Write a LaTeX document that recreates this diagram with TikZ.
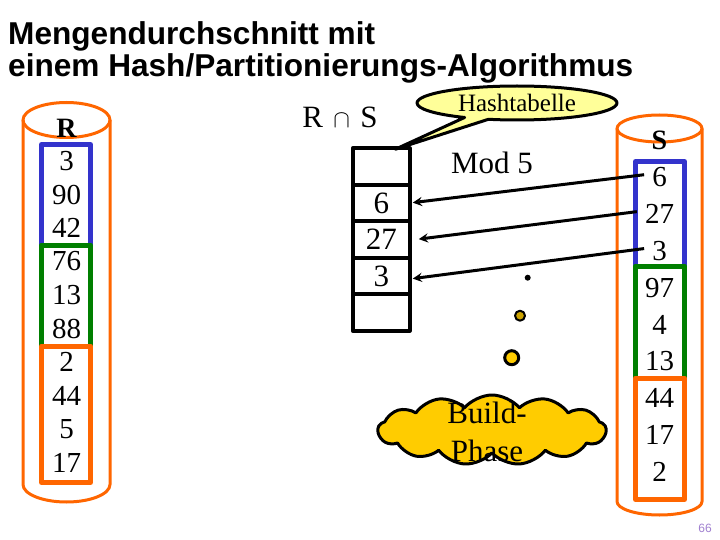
\documentclass[tikz,border=0pt]{standalone}
\usepackage{fontspec}
\setmainfont{Liberation Serif}
\newfontfamily\titlefont{Liberation Sans}
\usetikzlibrary{shapes.symbols,shapes.callouts,positioning}
\definecolor{orng}{HTML}{FF6600}
\definecolor{blu}{HTML}{3333CC}
\definecolor{grn}{HTML}{007F00}
\definecolor{callfill}{HTML}{FFFF99}
\definecolor{cloudfill}{HTML}{FFCC00}
\definecolor{pgnum}{HTML}{A080D0}
\tikzset{
  num/.style={font=\fontsize{29}{29}\selectfont, inner sep=0pt},
  lbl/.style={font=\fontsize{28}{28}\selectfont\bfseries, inner sep=0pt},
  big/.style={font=\fontsize{31}{31}\selectfont, inner sep=0pt},
  cylr/.style={draw=orng, line width=3pt},
  inbox/.style={line width=5pt},
  hcell/.style={draw, line width=4pt, minimum width=57pt, minimum height=36.5pt, inner sep=0pt, outer sep=0pt, font=\fontsize{31}{31}\selectfont},
  arr/.style={->, line width=3pt, shorten >=3pt, shorten <=6pt},
}
\begin{document}
\begin{tikzpicture}[x=1pt, y=-1pt, line join=round, >=stealth]
  \useasboundingbox[fill=white] (0,0) rectangle (720,540);
  % title
  \node[anchor=base west, inner sep=0pt, font=\titlefont\fontsize{31.6}{31.6}\selectfont\bfseries] (t1) at (8,45) {Mengendurchschnitt mit};
  \node[anchor=base west, inner sep=0pt, font=\titlefont\fontsize{31.6}{31.6}\selectfont\bfseries] (t2) at (8,77) {einem Hash/Partitionierungs-Algorithmus};
  % relation R
  \draw[cylr] (66.5,120) ellipse [x radius=43.5, y radius=17.5];
  \draw[cylr] (23,120) -- (23,484.5) arc[start angle=180, end angle=0, x radius=43.5, y radius=17.5] -- (110,120);
  \draw[inbox, draw=blu] (41.5,144.5) rectangle (90.5,245);
  \draw[inbox, draw=grn] (41.5,245) rectangle (90.5,346);
  \draw[inbox, draw=orng] (41.5,346) rectangle (90.5,482.5);
  \node[lbl] (rl) at (66.5,128) {R};
  \foreach \v [count=\i] in {3,90,42,76,13,88,2,44,5,17}
    \node[num] (r\i) at (66.5,{161+33.5*(\i-1)}) {\v};
  % relation S
  \draw[cylr] (659.5,128.5) ellipse [x radius=42.5, y radius=13.5];
  \draw[cylr] (617,128.5) -- (617,501.5) arc[start angle=180, end angle=0, x radius=42.5, y radius=13.5] -- (702,128.5);
  \draw[inbox, draw=blu] (635.5,161.5) rectangle (684.5,266);
  \draw[inbox, draw=grn] (635.5,266) rectangle (684.5,378);
  \draw[inbox, draw=orng] (635.5,378) rectangle (684.5,499.5);
  \node[lbl] (sl) at (659.5,140) {S};
  \foreach \v [count=\i] in {6,27,3,97,4,13,44,17,2}
    \node[num] (s\i) at (659.5,{177+36.9*(\i-1)}) {\v};
  % hash table
  \node[big] (rs) at (340,117) {R\,\,{\fontsize{24}{24}\selectfont$\cap$}\,\,S};
  \node[big] (mod) at (492,163) {Mod 5};
  \foreach \v [count=\i from 0] in {{},6,27,3,{}}
    \node[hcell] (h\i) at (381.3,{166.5+36.5*\i}) {\v};
  \draw[arr] ([xshift=-2pt,yshift=3pt]s1.west) -- (h1.east);
  \draw[arr] ([xshift=-2pt,yshift=3pt]s2.west) -- ([xshift=6pt]h2.east);
  \draw[arr] ([xshift=-2pt,yshift=3pt]s3.west) -- ([yshift=-3pt]h3.east);
  % buckets still to come
  \node[circle, fill=black, minimum size=6pt, inner sep=0pt] (d1) at (527.7,277.7) {};
  \node[circle, draw, line width=2pt, fill=cloudfill!80!black, minimum size=10pt, inner sep=0pt] (d2) at (520,315.7) {};
  \node[circle, draw, line width=3pt, fill=cloudfill, minimum size=14pt, inner sep=0pt] (d3) at (511.7,357.7) {};
  % callouts
  \node[ellipse callout, draw, line width=3pt, fill=callfill, minimum width=200pt, minimum height=34pt, inner sep=0pt,
        callout absolute pointer={([xshift=14pt,yshift=-1pt]h0.north)}, font=\fontsize{25}{25}\selectfont] (ht) at (517,103) {Hashtabelle};
  \node[cloud, draw, line width=3pt, fill=cloudfill, cloud puffs=13, cloud puff arc=100, aspect=3.2, minimum width=228pt, minimum height=70pt, inner sep=0pt] (bp) at (492,430) {};
  \node[big] (bp1) at (487,413) {Build-};
  \node[big] (bp2) at (487,451) {Phase};
  \node[font=\titlefont\fontsize{12}{12}\selectfont, text=pgnum, inner sep=0pt] (pg) at (705,528) {66};
\end{tikzpicture}
\end{document}
